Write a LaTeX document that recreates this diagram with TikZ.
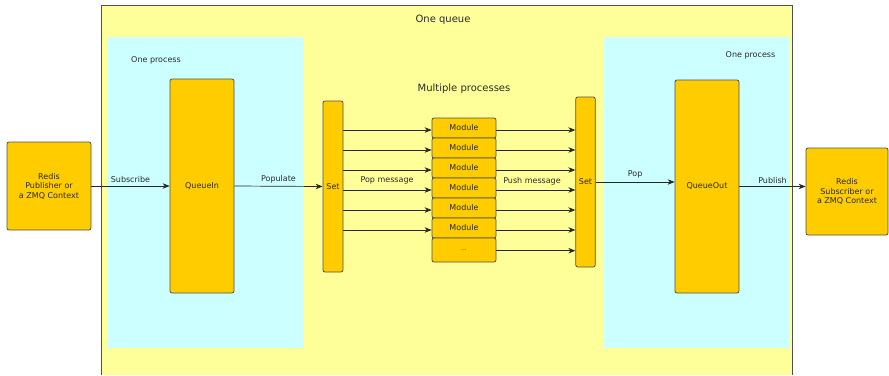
\documentclass[tikz,border=0pt]{standalone}
\usepackage{fontspec}
\setmainfont{DejaVu Sans}
\usetikzlibrary{arrows.meta}
\definecolor{bgyellow}{HTML}{FFFF99}
\definecolor{bgcyan}{HTML}{CCFFFF}
\definecolor{boxorange}{HTML}{FFCC00}
\definecolor{edgegray}{HTML}{505050}
\definecolor{txtgray}{HTML}{2A2A2A}
\tikzset{
  box/.style={draw=edgegray, fill=boxorange, rounded corners=2pt, line width=0.8pt,
    inner sep=0pt, align=center, text=txtgray, font=\fontsize{8}{9.5}\selectfont},
  lbl/.style={text=txtgray, font=\fontsize{8}{9.5}\selectfont, inner sep=1pt},
  bigl/.style={text=txtgray, font=\fontsize{10}{12}\selectfont, inner sep=0pt},
  arr/.style={draw=black!85, line width=0.7pt, -{Stealth[length=7pt,width=5.5pt]}}
}
\begin{document}
\begin{tikzpicture}[x=1pt,y=-1pt]
\useasboundingbox (0,0) rectangle (889,375);
% outer yellow region
\fill[bgyellow] (101,5) rectangle (792.5,375);
\draw[edgegray, line width=0.9pt] (101,375) -- (101,5) -- (792.5,5) -- (792.5,375);
% cyan process regions
\fill[bgcyan] (108,37) rectangle (303,347.5);
\fill[bgcyan] (604,37) rectangle (789,347.5);
% titles
\node[bigl] (tq) at (443,20) {One queue};
\node[bigl] (tm) at (464,89) {Multiple processes};
\node[lbl] (tp1) at (156,60) {One process};
\node[lbl] (tp2) at (750.5,55.5) {One process};
% nodes
\node[box, minimum width=84, minimum height=88] (redisL) at (49,186) {Redis\\Publisher or\\a ZMQ Context};
\node[box, minimum width=64, minimum height=214] (qin) at (202,186) {QueueIn};
\node[box, minimum width=20, minimum height=171] (setL) at (333,186.5) {Set};
\foreach \i/\yy in {1/128,2/148,3/168,4/188,5/208,6/228}{
  \node[box, minimum width=64, minimum height=20] (m\i) at (464,\yy) {Module};
}
\node[box, minimum width=64, minimum height=24] (m7) at (464,250) {\fontsize{6}{7}\selectfont ...};
\node[box, minimum width=19.5, minimum height=170] (setR) at (585.5,182) {Set};
\node[box, minimum width=64, minimum height=213] (qout) at (707,186.5) {QueueOut};
\node[box, minimum width=82, minimum height=87] (redisR) at (847,191.5) {Redis\\Subscriber or\\a ZMQ Context};
% connectors
\draw[arr] (redisL.east) -- node[lbl, above=2pt] {Subscribe} (qin.west);
\draw[arr] (qin.east) -- node[lbl, above=2pt] {Populate} (setL.west);
\foreach \i in {1,...,6}{
  \coordinate (a\i) at ([yshift=-2pt]m\i.west);
  \draw[arr] (setL.east |- a\i) -- (a\i);
}
\foreach \i in {1,...,6}{
  \coordinate (b\i) at ([yshift=-2pt]m\i.east);
  \draw[arr] (b\i) -- (setR.west |- b\i);
}
\coordinate (b7) at ([yshift=-0.7pt]m7.east);
\draw[arr] (b7) -- (setR.west |- b7);
\node[lbl] (popm) at (387,180) {Pop message};
\node[lbl] (pushm) at (532,181) {Push message};
\draw[arr] (setR.east) -- node[lbl, above=2pt] {Pop} (qout.west |- setR.east);
\draw[arr] (qout.east) -- node[lbl, above=2pt] {Publish} (qout.east -| redisR.west);
\end{tikzpicture}
\end{document}
